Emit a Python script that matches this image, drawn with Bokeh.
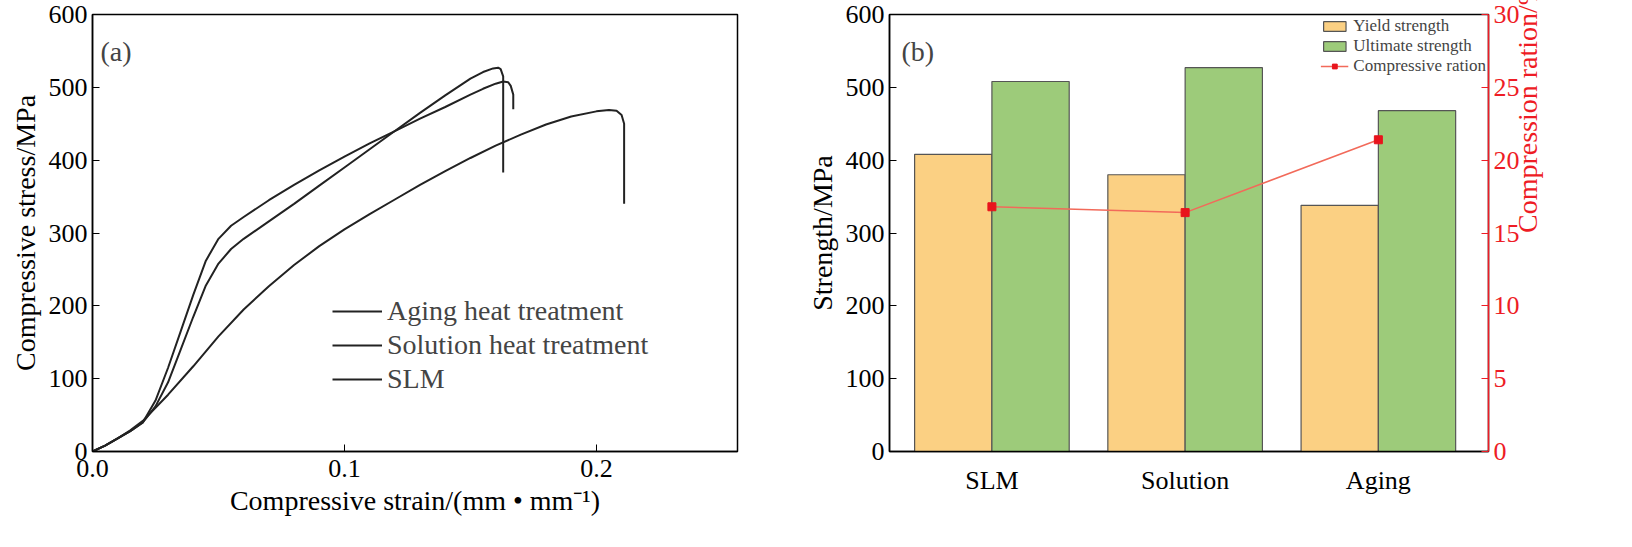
import math
from bokeh.plotting import figure
from bokeh.layouts import row
from bokeh.models import Range1d, LinearAxis, Legend, LegendItem, Label
from bokeh.embed import file_html
from bokeh.resources import INLINE

# Panel (a) curves
aging_x = [0, 0.005, 0.01, 0.015, 0.02, 0.025, 0.03, 0.035, 0.04, 0.045, 0.05, 0.055, 0.06, 0.07, 0.08, 0.09,
           0.10, 0.11, 0.12, 0.13, 0.14, 0.15, 0.155, 0.16, 0.163, 0.165, 0.166, 0.167, 0.167]
aging_y = [0, 8, 18, 28, 40, 70, 115, 165, 215, 262, 292, 310, 322, 345, 366, 386,
           405, 423, 440, 457, 473, 490, 498, 505, 508, 507, 502, 490, 470]
sol_x = [0, 0.005, 0.01, 0.015, 0.02, 0.025, 0.03, 0.035, 0.04, 0.045, 0.05, 0.055, 0.06, 0.07, 0.08, 0.09,
         0.10, 0.11, 0.12, 0.13, 0.14, 0.15, 0.155, 0.159, 0.161, 0.162, 0.163, 0.163]
sol_y = [0, 8, 18, 28, 40, 62, 95, 140, 185, 228, 258, 278, 292, 316, 340, 365,
         390, 415, 440, 465, 489, 512, 521, 526, 527, 525, 515, 383]
slm_x = [0, 0.005, 0.01, 0.015, 0.02, 0.03, 0.04, 0.05, 0.06, 0.07, 0.08, 0.09, 0.10, 0.11, 0.12, 0.13,
         0.14, 0.15, 0.16, 0.17, 0.18, 0.19, 0.20, 0.205, 0.208, 0.210, 0.211, 0.211, 0.211]
slm_y = [0, 8, 18, 29, 42, 78, 117, 158, 195, 227, 256, 282, 305, 326, 346, 366,
         385, 403, 420, 435, 449, 460, 467, 469, 468, 462, 450, 420, 340]

# Panel (b)
groups = ["SLM", "Solution", "Aging"]
yield_strength = [408, 380, 338]
ultimate_strength = [508, 527, 468]
compress_ratio = [16.8, 16.4, 21.4]

SERIF = "Liberation Serif"

def style(p):
    p.outline_line_color = "black"
    p.outline_line_width = 1.5
    p.xgrid.visible = False
    p.ygrid.visible = False
    p.background_fill_color = "white"
    p.border_fill_color = "white"

def style_axis(ax, color="black"):
    ax.major_label_text_font = SERIF
    ax.major_label_text_font_size = "26px"
    ax.major_label_text_color = color
    ax.axis_label_text_font = SERIF
    ax.axis_label_text_font_size = "28px"
    ax.axis_label_text_font_style = "normal"
    ax.axis_label_text_color = color
    ax.axis_line_color = color
    ax.major_tick_line_color = color
    ax.major_tick_in = 7
    ax.major_tick_out = 0
    ax.minor_tick_line_color = None
    ax.axis_line_width = 1.5

pa = figure(width=790, height=531, output_backend="svg", toolbar_location=None,
            x_range=Range1d(0, 0.256), y_range=Range1d(0, 600),
            min_border_left=92, min_border_right=53, min_border_top=14, min_border_bottom=80)
style(pa)
pa.xaxis.ticker = [0.0, 0.1, 0.2]
pa.xaxis.major_label_overrides = {0: "0.0", 0.1: "0.1", 0.2: "0.2"}
pa.yaxis.ticker = [0, 100, 200, 300, 400, 500, 600]
pa.xaxis.axis_label = "Compressive strain/(mm • mm⁻¹)"
pa.yaxis.axis_label = "Compressive stress/MPa"
style_axis(pa.xaxis[0]); style_axis(pa.yaxis[0])
pa.xaxis.major_label_standoff = 8
r1 = pa.line(aging_x, aging_y, line_color="#222222", line_width=2)
r2 = pa.line(sol_x, sol_y, line_color="#222222", line_width=2)
r3 = pa.line(slm_x, slm_y, line_color="#222222", line_width=2)
leg_a = Legend(items=[LegendItem(label="Aging heat treatment", renderers=[r1]),
                      LegendItem(label="Solution heat treatment", renderers=[r2]),
                      LegendItem(label="SLM", renderers=[r3])],
               location=(240, 55), border_line_color=None, background_fill_alpha=0,
               label_text_font=SERIF, label_text_font_size="28px", spacing=-4,
               glyph_width=50, label_height=34)
pa.add_layout(leg_a, "center")
pa.add_layout(Label(x=8, y=385, x_units="screen", y_units="screen", text="(a)",
                    text_font=SERIF, text_font_size="28px"))

pb = figure(width=826, height=531, output_backend="svg", toolbar_location=None,
            x_range=Range1d(0.47, 3.57), y_range=Range1d(0, 600),
            min_border_left=99, min_border_right=128, min_border_top=14, min_border_bottom=80)
style(pb)
pb.extra_y_ranges = {"ratio": Range1d(0, 30)}
xs = [1, 2, 3]
b1 = pb.vbar(x=[x - 0.2 for x in xs], top=yield_strength, width=0.4,
             fill_color="#FBD083", line_color="#555555", line_width=1.2)
b2 = pb.vbar(x=[x + 0.2 for x in xs], top=ultimate_strength, width=0.4,
             fill_color="#9DCB7A", line_color="#555555", line_width=1.2)
l3 = pb.line(xs, compress_ratio, y_range_name="ratio", line_color="#F26A5A", line_width=1.5)
s3 = pb.scatter(xs, compress_ratio, y_range_name="ratio", marker="square", size=8,
                fill_color="#E8141C", line_color="#E8141C")
pb.xaxis.ticker = xs
pb.xaxis.major_label_overrides = {1: "SLM", 2: "Solution", 3: "Aging"}
pb.yaxis.ticker = [0, 100, 200, 300, 400, 500, 600]
pb.yaxis.axis_label = "Strength/MPa"
style_axis(pb.xaxis[0]); style_axis(pb.yaxis[0])
pb.xaxis.major_tick_in = 0
pb.xaxis.major_label_standoff = 14
rax = LinearAxis(y_range_name="ratio", axis_label="Compression ration/%",
                 ticker=[0, 5, 10, 15, 20, 25, 30])
style_axis(rax, "#EE1C25")
rax.axis_label_orientation = math.pi / 2
pb.add_layout(rax, "right")
leg_b = Legend(items=[LegendItem(label="Yield strength", renderers=[b1]),
                      LegendItem(label="Ultimate strength", renderers=[b2]),
                      LegendItem(label="Compressive ration", renderers=[l3, s3])],
               location="top_right", border_line_color=None, background_fill_alpha=0,
               label_text_font=SERIF, label_text_font_size="17px", spacing=-6,
               glyph_width=28, glyph_height=12, label_height=20, padding=2, margin=2)
pb.add_layout(leg_b, "center")
pb.add_layout(Label(x=12, y=385, x_units="screen", y_units="screen", text="(b)",
                    text_font=SERIF, text_font_size="28px"))

layout = row(pa, pb, spacing=0)
open("out.html", "w").write(file_html(layout, INLINE))
